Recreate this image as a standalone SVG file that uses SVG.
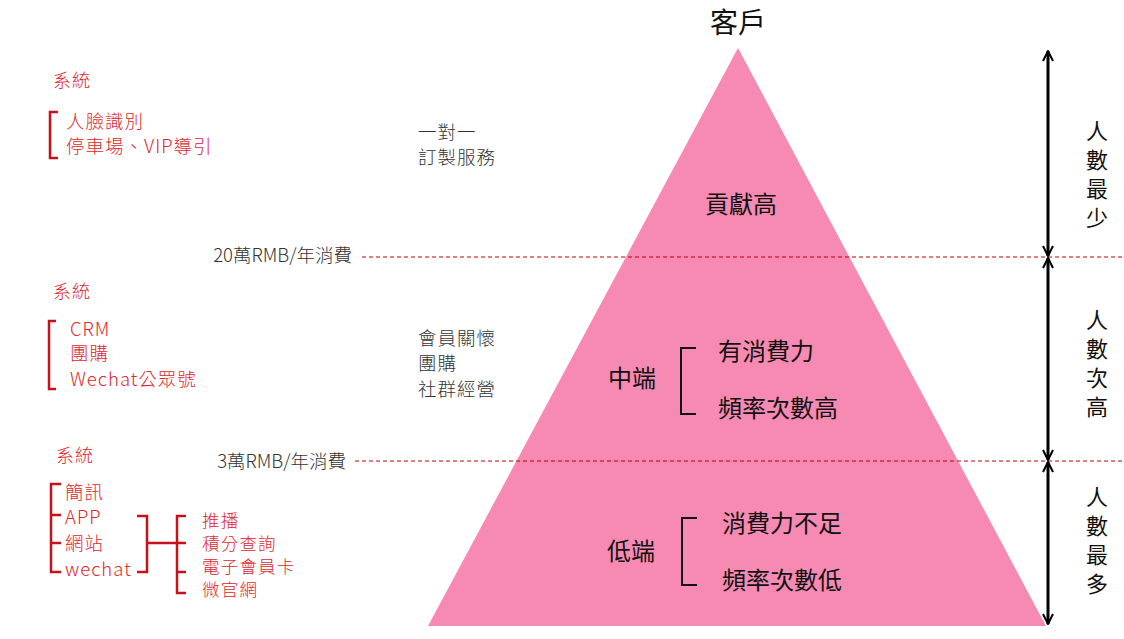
<svg xmlns="http://www.w3.org/2000/svg" width="1124" height="639" viewBox="0 0 1124 639">
<style>
text{font-family:"Noto Sans CJK TC","Noto Sans",sans-serif;}
.r{fill:#E0262B;font-size:18.5px;font-weight:300;letter-spacing:1px;}
.rs{fill:#E0262B;font-size:18px;font-weight:300;letter-spacing:1px;}
.rt{fill:#E0262B;font-size:17.5px;font-weight:300;letter-spacing:1.2px;}
.k{fill:#333;font-size:18.5px;font-weight:300;letter-spacing:1px;}
.t{fill:#333;font-size:18.5px;font-weight:300;}
.b{fill:#111;font-size:24px;}
.v{fill:#111;font-size:22px;text-anchor:middle;}
.br{fill:none;stroke:#C8101A;stroke-width:2.5;}
.bk{fill:none;stroke:#111;stroke-width:2;}
.d{stroke:#C00000;stroke-width:1;stroke-dasharray:4 3;}
.ar{stroke:#000;stroke-width:3;fill:none;}
</style>
<defs>
<marker id="ah" viewBox="0 0 12 12" refX="11" refY="6" markerWidth="12" markerHeight="12" markerUnits="userSpaceOnUse" orient="auto-start-reverse">
<path d="M1,1 L11,6 L1,11" fill="none" stroke="#000" stroke-width="2"/>
</marker>
</defs>
<g id="pyramid">
<polygon points="738,48 428,626 1046,626" fill="#F68AB2"/>
<text x="738" y="33" font-size="28" text-anchor="middle" fill="#111">客戶</text>
<text x="741" y="213" class="b" text-anchor="middle">貢獻高</text>
</g>
<g id="mid">
<text x="608" y="387" class="b" font-size="25">中端</text>
<path class="bk" d="M696,348 H681 V414 H696"/>
<text x="718" y="360" class="b">有消費力</text>
<text x="718" y="417" class="b">頻率次數高</text>
</g>
<g id="low">
<text x="607" y="560" class="b" font-size="25">低端</text>
<path class="bk" d="M697,518 H682 V585 H697"/>
<text x="722" y="532" class="b">消費力不足</text>
<text x="722" y="589" class="b">頻率次數低</text>
</g>
<g id="sys1">
<text x="53" y="87" class="rs">系統</text>
<path class="br" d="M58,112 H50 V158 H58"/>
<text x="66" y="128" class="r">人臉識別</text>
<text x="66" y="153" class="r">停車場、VIP導引</text>
</g>
<g id="sys2">
<text x="53" y="298" class="rs">系統</text>
<path class="br" d="M56,321 H49 V389 H56"/>
<text x="70" y="336" class="r">CRM</text>
<text x="70" y="360" class="r">團購</text>
<text x="70" y="386" class="r">Wechat公眾號</text>
</g>
<g id="sys3">
<text x="56" y="462" class="rs">系統</text>
<path class="br" d="M61,484 H51 V572 H61 M51,515 H61 M51,543 H61"/>
<text x="65" y="499" class="r">簡訊</text>
<text x="65" y="524" class="r">APP</text>
<text x="65" y="550" class="r">網站</text>
<text x="65" y="576" class="r">wechat</text>
<path class="br" d="M137,516 H147 V572 H137 M147,543 H186 M186,516 H177 V593 H186 M177,572 H186"/>
<text x="202" y="527" class="rt">推播</text>
<text x="202" y="550" class="rt">積分查詢</text>
<text x="202" y="573" class="rt">電子會員卡</text>
<text x="202" y="596" class="rt">微官網</text>
</g>
<g id="services">
<text x="418" y="139" class="k">一對一</text>
<text x="418" y="164" class="k">訂製服務</text>
<text x="418" y="345" class="k">會員關懷</text>
<text x="418" y="370" class="k">團購</text>
<text x="418" y="396" class="k">社群經營</text>
</g>
<g id="thresholds">
<text x="352" y="262" class="t" text-anchor="end">20萬RMB/年消費</text>
<text x="346" y="468" class="t" text-anchor="end">3萬RMB/年消費</text>
</g>
<g id="counts">
<text class="v" x="1097" y="139">人<tspan x="1097" dy="29">數</tspan><tspan x="1097" dy="29">最</tspan><tspan x="1097" dy="29">少</tspan></text>
<text class="v" x="1097" y="328">人<tspan x="1097" dy="29">數</tspan><tspan x="1097" dy="29">次</tspan><tspan x="1097" dy="29">高</tspan></text>
<text class="v" x="1097" y="505">人<tspan x="1097" dy="29">數</tspan><tspan x="1097" dy="29">最</tspan><tspan x="1097" dy="29">多</tspan></text>
</g>
<g id="connectors">
<line class="d" x1="362" y1="257" x2="1124" y2="257"/>
<line class="d" x1="355" y1="461" x2="1124" y2="461"/>
<line class="ar" x1="1048" y1="51" x2="1048" y2="256" marker-start="url(#ah)" marker-end="url(#ah)"/>
<line class="ar" x1="1048" y1="258" x2="1048" y2="460" marker-start="url(#ah)" marker-end="url(#ah)"/>
<line class="ar" x1="1048" y1="462" x2="1048" y2="624" marker-start="url(#ah)" marker-end="url(#ah)"/>
</g>
</svg>
